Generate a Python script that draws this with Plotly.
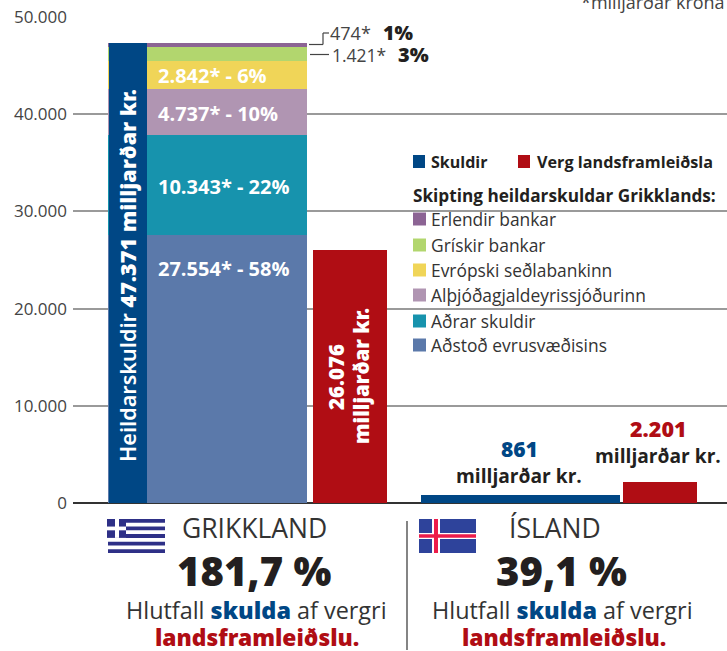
import plotly.graph_objects as go

# ---- data ----
segment_names = ["Aðstoð evrusvæðisins", "Aðrar skuldir", "Alþjóðagjaldeyrissjóðurinn",
                 "Evrópski seðlabankinn", "Grískir bankar", "Erlendir bankar"]
segment_values = [27554, 10343, 4737, 2842, 1421, 474]
segment_colors = ["#5b79aa", "#1793ad", "#b095b2", "#f0d558", "#b2d66e", "#8c6494"]
greece_debt = 47371
greece_gdp = 26076
iceland_debt = 861
iceland_gdp = 2201
tick_values = [0, 10000, 20000, 30000, 40000, 50000]
tick_labels = ["0", "10.000", "20.000", "30.000", "40.000", "50.000"]

NAVY, RED, INK, GRID = "#004785", "#b00d14", "#231f20", "#9a9a9a"
FONT = "Open Sans"
HEAVY = "Noto Sans"
W, H = 727, 651
L, R, T, B = 73, 727, 17, 503


def py(p):
    return (B - p) / (B - T)


fig = go.Figure()


def bar(cx, w, v, color, name):
    fig.add_bar(x=[cx], y=[v], width=[w], marker=dict(color=color, line=dict(width=0)),
                name=name, showlegend=False)


for n, v, c in zip(segment_names, segment_values, segment_colors):
    bar(207.5, 199, v, c, n)
bar(128, 38, greece_debt, NAVY, "Skuldir")
bar(350, 74, greece_gdp, RED, "Verg landsframleiðsla")
bar(520.5, 199, iceland_debt, NAVY, "Skuldir")
bar(660, 74, iceland_gdp, RED, "Verg landsframleiðsla")

ann = []


def text(x, p, t, size, color=INK, anchor="left", weight=400, angle=0, family=None):
    ann.append(dict(x=x, y=py(p), xref="x", yref="paper", text=t, showarrow=False,
                    xanchor=anchor, yanchor="middle", textangle=angle,
                    font=dict(family=family or FONT, size=size, color=color, weight=weight),
                    borderpad=0, borderwidth=0))


def heavy(x, p, t, size, color=INK, anchor="left", angle=0):
    text(x, p, t, size, color, anchor, 900, angle, HEAVY)


shapes = []


def rect(x0, y0, x1, y1, color, layer="above"):
    shapes.append(dict(type="rect", xref="x", yref="paper", x0=x0, x1=x1, y0=py(y0), y1=py(y1),
                       fillcolor=color, line=dict(width=0), layer=layer))


def line(x0, y0, x1, y1, color="#444", w=1.2):
    shapes.append(dict(type="line", xref="x", yref="paper", x0=x0, x1=x1, y0=py(y0), y1=py(y1),
                       line=dict(color=color, width=w), layer="above"))


# gap in the gridlines around the legend
rect(405.5, 170, 727, 400, "white", "between")

# segment labels
text(158, 75, "2.842* - 6%", 20, "white", weight=700)
text(158, 113, "4.737* - 10%", 20, "white", weight=700)
text(158, 186, "10.343* - 22%", 20, "white", weight=700)
text(158, 268, "27.554* - 58%", 20, "white", weight=700)

# small segments
line(309, 44.5, 323, 44.5)
line(323, 44.5, 323, 33)
line(323, 33, 329, 33)
line(310, 54.5, 329, 54.5)
text(330, 33, "474*", 18, "#444")
heavy(383, 33, "1%", 19.5)
text(332, 55, "1.421*", 17.5, "#444")
heavy(398, 55, "3%", 20)

text(725, 2, "*milljarðar króna", 18, "#444", "right")

# vertical labels
text(127, 276, "Heildarskuldir <span style='font-weight:900'>47.371 milljarðar kr.</span>",
     21.6, "white", "center", 600, -90, HEAVY)
heavy(336, 377, "26.076", 20.5, "white", "center", -90)
heavy(361, 376, "milljarðar kr.", 20.5, "white", "center", -90)

# iceland labels
heavy(519, 449, "861", 21, NAVY, "center")
text(519, 475, "milljarðar kr.", 19.2, INK, "center", 700)
heavy(658, 428, "2.201", 21.5, RED, "center")
text(658, 455, "milljarðar kr.", 19.2, INK, "center", 700)

# legend
rect(413, 155, 425, 168, NAVY)
text(431, 162, "Skuldir", 16, INK, weight=700)
rect(518, 155, 530, 168, RED)
text(537, 162, "Verg landsframleiðsla", 16.2, INK, weight=700)
text(413, 195, "Skipting heildarskuldar Grikklands:", 17.2, INK, weight=700)
rows = list(zip(reversed(segment_names), reversed(segment_colors), [219, 245, 270, 295, 321, 345]))
for n, c, y in rows:
    rect(413, y - 6.5, 426, y + 6.5, c)
    text(431, y, n, 17.4, "#333")

# country blocks
text(254, 528, "GRIKKLAND", 26.5, "#333", "center")
heavy(254, 570, "181,7 %", 40, INK, "center")
skulda = f"Hlutfall <span style='font-weight:900;color:{NAVY}'>skulda</span> af vergri"
text(256, 610, skulda, 23.4, "#333", "center")
heavy(257, 637, "landsframleiðslu.", 22.8, RED, "center")

text(555, 528, "ÍSLAND", 26.5, "#333", "center")
heavy(561, 570, "39,1 %", 40, INK, "center")
text(562, 610, skulda, 23.4, "#333", "center")
heavy(564, 637, "landsframleiðslu.", 22.8, RED, "center")

line(407, 521, 407, 650, "#333", 1.2)

# greek flag
GB = "#2e3087"
sh = 34 / 9
for i in range(0, 9, 2):
    rect(108 if i > 4 else 126, 519 + i * sh, 165, 519 + (i + 1) * sh, GB)
rect(107, 519, 126, 519 + 5 * sh, GB)
rect(115, 519, 119, 519 + 5 * sh, "white")
rect(107, 519 + 2 * sh, 126, 519 + 3 * sh, "white")

# icelandic flag
rect(419, 519, 476, 553, "#2e439b")
rect(432, 519, 440, 553, "white")
rect(419, 533, 476, 539, "white")
rect(434, 519, 438, 553, "#ed1c4a")
rect(419, 534.3, 476, 537.7, "#ed1c4a")

fig.update_layout(
    width=W, height=H, autosize=False, margin=dict(l=L, r=W - R, t=T, b=H - B, pad=0),
    paper_bgcolor="white", plot_bgcolor="white", barmode="stack", showlegend=False,
    font=dict(family=FONT, color="#444"), annotations=ann, shapes=shapes,
    xaxis=dict(range=[L, R], visible=False, fixedrange=True),
    yaxis=dict(range=[0, 50000], tickvals=tick_values, ticktext=tick_labels, showgrid=True,
               gridcolor=GRID, gridwidth=1.5, zeroline=True, zerolinecolor="#333", zerolinewidth=1.5,
               showline=False, ticks="", tickfont=dict(family=FONT, size=17, color="#444"),
               ticklabelstandoff=5, fixedrange=True),
)
fig.write_html("out.html", config=dict(displayModeBar=False),
               post_script="document.body.style.margin='0';document.documentElement.style.overflow='hidden';")
